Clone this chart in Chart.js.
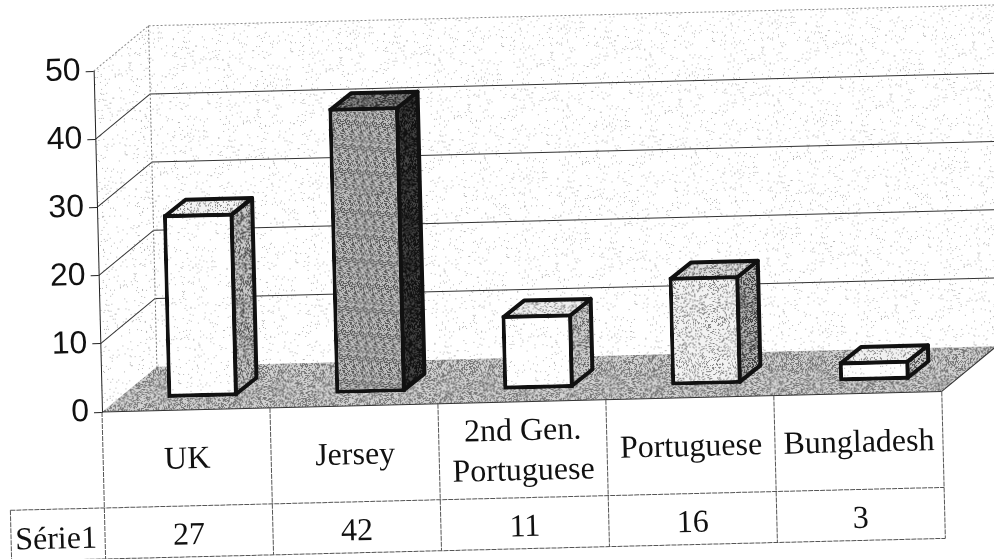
<!DOCTYPE html>
<html>
<head>
<meta charset="utf-8">
<style>
  html, body { margin: 0; padding: 0; background: #fff; overflow: hidden; }
  canvas { display: block; }
</style>
<script src="https://cdn.jsdelivr.net/npm/chart.js@4"></script>
</head>
<body>
<canvas id="myChart" width="994" height="559"></canvas>
<script>
const categories = ["UK", "Jersey", "2nd Gen. Portuguese", "Portuguese", "Bungladesh"];
const categoryLines = [["UK"], ["Jersey"], ["2nd Gen.", "Portuguese"], ["Portuguese"], ["Bungladesh"]];
const seriesName = "Série1";
const values = [27, 42, 11, 16, 3];
const yTicks = [0, 10, 20, 30, 40, 50];

// the scan sits a bit crooked, so everything is drawn in a turned frame
const tilt = 0.0245;
const pivot = { x: 102, y: 412 };
const wallDepth = { x: 56, y: -44 };
const barDepth = { x: 21, y: -16 };
const barShift = { x: 17, y: -12 };
const row1 = 96;
const row2 = 147;

// fixed speckle tile for the scanned halftone look
function stipple(base, ink, density, seed) {
  const c = document.createElement("canvas");
  c.width = c.height = 211;
  const g = c.getContext("2d");
  g.fillStyle = base;
  g.fillRect(0, 0, 211, 211);
  g.fillStyle = ink;
  let s = seed;
  for (let y = 0; y < 211; y++) {
    for (let x = 0; x < 211; x++) {
      s = (s * 1103515245 + 12345) % 2147483648;
      if (((s >> 12) & 1023) / 1024 < density) g.fillRect(x, y, 1, 1);
    }
  }
  return g.createPattern(c, "repeat");
}

const wallFill = stipple("#ffffff", "#b4b4b4", 0.03, 11);
const floorFill = stipple("#d0d0d0", "#777777", 0.42, 23);
const frontFills = [
  stipple("#ffffff", "#b8b8b8", 0.03, 31),
  stipple("#bcbcbc", "#5a5a5a", 0.42, 37),
  stipple("#ffffff", "#b8b8b8", 0.03, 41),
  stipple("#f2f2f2", "#808080", 0.2, 43),
  stipple("#ffffff", "#b8b8b8", 0.03, 47),
];
const sideFills = [
  stipple("#c8c8c8", "#555555", 0.4, 53),
  stipple("#444444", "#111111", 0.6, 59),
  stipple("#cccccc", "#666666", 0.35, 61),
  stipple("#b4b4b4", "#444444", 0.45, 67),
  stipple("#c8c8c8", "#555555", 0.35, 71),
];
const topFills = [
  stipple("#f4f4f4", "#888888", 0.2, 73),
  stipple("#8a8a8a", "#333333", 0.5, 79),
  stipple("#eeeeee", "#888888", 0.25, 83),
  stipple("#dddddd", "#666666", 0.3, 89),
  stipple("#f0f0f0", "#888888", 0.2, 97),
];

function poly(ctx, pts) {
  ctx.beginPath();
  pts.forEach((p, i) => (i ? ctx.lineTo(p[0], p[1]) : ctx.moveTo(p[0], p[1])));
  ctx.closePath();
}

function line(ctx, x1, y1, x2, y2) {
  ctx.beginPath();
  ctx.moveTo(x1, y1);
  ctx.lineTo(x2, y2);
  ctx.stroke();
}

const scene3d = {
  id: "scene3d",
  beforeDraw(chart) {
    const ctx = chart.ctx;
    const { left, right } = chart.chartArea;
    const y = chart.scales.y;
    const d = wallDepth;
    const y0 = y.getPixelForValue(0);
    const yTop = y.getPixelForValue(50);

    ctx.save();
    ctx.fillStyle = "#fff";
    ctx.fillRect(0, 0, chart.width, chart.height);
    ctx.translate(pivot.x, pivot.y);
    ctx.rotate(-tilt);
    ctx.translate(-pivot.x, -pivot.y);

    // walls
    ctx.fillStyle = wallFill;
    poly(ctx, [[left + d.x, yTop + d.y], [right + d.x + 30, yTop + d.y], [right + d.x + 30, y0 + d.y], [left + d.x, y0 + d.y]]);
    ctx.fill();
    poly(ctx, [[left, yTop], [left + d.x, yTop + d.y], [left + d.x, y0 + d.y], [left, y0]]);
    ctx.fill();

    // floor
    ctx.fillStyle = floorFill;
    poly(ctx, [[left, y0], [right, y0], [right + d.x, y0 + d.y], [left + d.x, y0 + d.y]]);
    ctx.fill();

    // gridlines
    ctx.lineWidth = 1;
    yTicks.forEach((t) => {
      const py = y.getPixelForValue(t);
      if (t === 0) return;
      if (t === 50) {
        ctx.strokeStyle = "#8a8a8a";
        ctx.setLineDash([2, 2]);
      } else {
        ctx.strokeStyle = "#333";
        ctx.setLineDash([]);
      }
      line(ctx, left, py, left + d.x, py + d.y);
      line(ctx, left + d.x, py + d.y, right + d.x + 30, py + d.y);
    });
    ctx.strokeStyle = "#777";
    ctx.setLineDash([2, 2]);
    line(ctx, left + d.x, yTop + d.y, left + d.x, y0 + d.y);
    ctx.setLineDash([]);
  },
  beforeDatasetsDraw(chart) {
    const ctx = chart.ctx;
    ctx.save();
    ctx.translate(barShift.x, barShift.y);
    const d = barDepth;
    chart.getDatasetMeta(0).data.forEach((bar, i) => {
      const l = bar.x - bar.width / 2 + 2;
      const r = bar.x + bar.width / 2 - 2;
      const t = bar.y + 2;
      const b = bar.base - 2;
      ctx.strokeStyle = "#111";
      ctx.lineWidth = 4;
      ctx.lineJoin = "round";
      ctx.fillStyle = sideFills[i];
      poly(ctx, [[r, t], [r + d.x, t + d.y], [r + d.x, b + d.y], [r, b]]);
      ctx.fill();
      ctx.stroke();
      ctx.fillStyle = topFills[i];
      poly(ctx, [[l, t], [l + d.x, t + d.y], [r + d.x, t + d.y], [r, t]]);
      ctx.fill();
      ctx.stroke();
    });
  },
  afterDatasetsDraw(chart) {
    chart.ctx.restore();
  },
  afterDraw(chart) {
    const ctx = chart.ctx;
    const x = chart.scales.x;
    const { left, right } = chart.chartArea;
    const y0 = chart.scales.y.getPixelForValue(0);
    const step = x.getPixelForValue(1) - x.getPixelForValue(0);

    // floor edge
    ctx.strokeStyle = "#333";
    ctx.lineWidth = 1;
    line(ctx, left, y0, right, y0);
    line(ctx, right, y0, right + wallDepth.x, y0 + wallDepth.y);

    // data table
    ctx.strokeStyle = "#555";
    ctx.setLineDash([5, 1]);
    categories.forEach((c, i) => {
      const cx = x.getPixelForValue(i);
      line(ctx, cx - step / 2, y0, cx - step / 2, y0 + row2);
    });
    line(ctx, right, y0, right, y0 + row2);
    line(ctx, 8, y0 + row1, right, y0 + row1);
    line(ctx, 8, y0 + row2, right, y0 + row2);
    line(ctx, 8, y0 + row1, 8, y0 + row2);
    ctx.setLineDash([]);

    ctx.fillStyle = "#111";
    ctx.font = '32px "Liberation Serif"';
    ctx.textAlign = "center";
    ctx.textBaseline = "middle";
    categoryLines.forEach((lines, i) => {
      const cx = x.getPixelForValue(i);
      const lineH = 40;
      lines.forEach((txt, j) => {
        ctx.fillText(txt, cx, y0 + 50 + (j - (lines.length - 1) / 2) * lineH);
      });
      ctx.fillText(String(values[i]), cx, y0 + 126);
    });
    ctx.fillText(seriesName, 53, y0 + 127);
    ctx.restore();
  },
};

new Chart(document.getElementById("myChart").getContext("2d"), {
  type: "bar",
  data: {
    labels: categories,
    datasets: [
      {
        label: seriesName,
        data: values,
        backgroundColor: frontFills,
        borderColor: "#111",
        borderWidth: 4,
        borderSkipped: false,
        barPercentage: 0.42,
        categoryPercentage: 1,
        clip: false,
      },
    ],
  },
  options: {
    responsive: false,
    animation: false,
    events: [],
    layout: { padding: { left: 0, right: 52, top: 71, bottom: 147 } },
    plugins: { legend: { display: false }, tooltip: { enabled: false } },
    scales: {
      x: { display: false },
      y: {
        min: 0,
        max: 50,
        afterFit(scale) {
          scale.width = 102;
        },
        afterBuildTicks(scale) {
          scale.ticks = yTicks.map((v) => ({ value: v }));
        },
        border: { display: true, color: "#222", width: 1 },
        grid: { drawOnChartArea: false, drawTicks: true, tickLength: 8, color: "#222" },
        ticks: {
          color: "#111",
          padding: 5,
          font: { family: "Liberation Sans", size: 32 },
        },
      },
    },
  },
  plugins: [scene3d],
});
</script>
</body>
</html>
